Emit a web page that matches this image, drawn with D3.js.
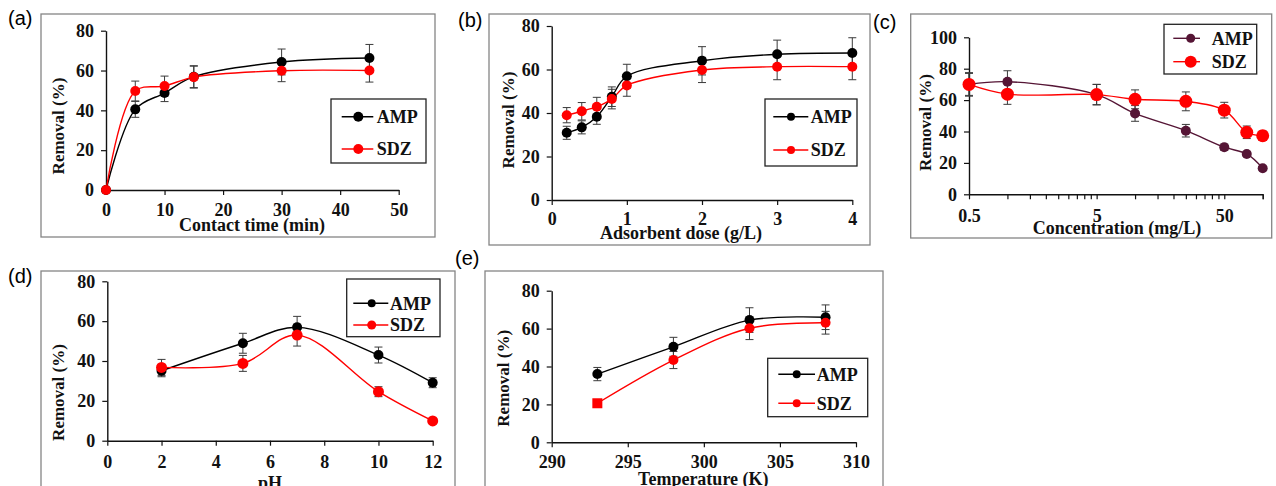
<!DOCTYPE html>
<html>
<head>
<meta charset="utf-8">
<script src="https://cdn.jsdelivr.net/npm/d3@7/dist/d3.min.js"></script>
<style>
  body { margin: 0; background: #fff; }
  svg { display: block; }
</style>
</head>
<body>
<svg id="chart" width="1276" height="486"></svg>
<script>
// ---- data ----
// (a) contact time
var timeX = [0, 5, 10, 15, 30, 45];
var timeAMP = [0, 40.5, 48.7, 56.9, 64.3, 66.3];
var timeAMPErr = [0, 4, 4.3, 5.5, 6.5, 6.8];
var timeSDZ = [0, 49.7, 52.2, 56.7, 59.9, 60];
var timeSDZErr = [0, 5, 5, 5.5, 5.5, 5.8];

// (b) adsorbent dose
var doseX = [0.2, 0.4, 0.6, 0.8, 1, 2, 3, 4];
var doseAMP = [30.9, 33.4, 38.3, 47.5, 56.9, 64, 67, 67.6];
var doseAMPErr = [3, 3, 3.5, 4.5, 5.5, 6.5, 6.5, 7];
var doseSDZ = [39, 40.8, 42.9, 46.4, 52.7, 59.8, 61.3, 61.3];
var doseSDZErr = [3.5, 4, 4.3, 4.5, 5, 5.8, 6, 6];

// (c) concentration (log axis)
var concX = [0.5, 1, 5, 10, 25, 50, 75, 100];
var concAMP = [70, 71.7, 63.5, 51.5, 40.5, 30, 25.7, 16.6];
var concAMPErr = [7.5, 7, 6.5, 5, 4, 2, 1.5, 1];
var concSDZ = [70, 63.8, 63.5, 60.5, 59.2, 53.6, 39.5, 37.3];
var concSDZErr = [7, 6.5, 6.5, 6, 6, 5, 4, 3];
var concTickLabels = [0.5, 5, 50];

// (d) pH
var phX = [2, 5, 7, 10, 12];
var phAMP = [35.1, 48.9, 56.9, 43, 29.1];
var phAMPErr = [3, 5, 5.5, 4, 2.5];
var phSDZ = [36.8, 38.8, 53, 24.6, 9.9];
var phSDZErr = [4, 4, 5.5, 2.5, 1];

// (e) temperature
var tempX = [293, 298, 303, 308];
var tempAMP = [36, 50.4, 64.5, 66];
var tempAMPErr = [3.5, 5, 6.5, 6.5];
var tempSDZ = [20.6, 43.4, 60.2, 63.1];
var tempSDZErr = [1.5, 4.5, 6, 6];

var seriesNames = ["AMP", "SDZ"];

var SERIF = "'Liberation Serif', 'Times New Roman', 'DejaVu Serif', serif";
var SANS = "'Liberation Sans', Arial, sans-serif";

var svg = d3.select("#chart");

function minorLogTicks(lo, hi) {
  var t = [];
  for (var dec = lo; dec < hi; dec *= 10) {
    for (var k = 1; k <= 9; k++) {
      var v = dec * k;
      if (v <= hi + 1e-9) t.push(+v.toPrecision(6));
    }
  }
  t.push(hi);
  return t;
}

function serifText(sel, size) {
  return sel.style("font-family", SERIF).style("font-weight", "bold")
    .style("font-size", size + "px").attr("fill", "#111");
}

function drawPanel(c) {
  var g = svg.append("g");

  // outer frame
  g.append("rect")
    .attr("x", c.frame[0]).attr("y", c.frame[1])
    .attr("width", c.frame[2]).attr("height", c.frame[3])
    .attr("fill", "none").attr("stroke", "#858585").attr("stroke-width", 1.3);

  g.append("text")
    .style("font-family", SANS).style("font-size", "20px")
    .attr("x", c.label[0]).attr("y", c.label[1]).attr("dy", "0.35em")
    .text(c.label[2]);

  var x = c.log ? d3.scaleLog() : d3.scaleLinear();
  x.domain(c.xDomain).range(c.xRange);
  var y = d3.scaleLinear().domain(c.yDomain).range(c.yRange);

  var xAxis = d3.axisBottom(x).tickValues(c.xTicks).tickSize(5).tickSizeOuter(0)
    .tickFormat(function(d) { return c.xLabels.indexOf(d) >= 0 ? d : ""; });
  var gx = g.append("g")
    .attr("transform", "translate(0," + c.yRange[0] + ")")
    .call(xAxis);
  serifText(gx.selectAll("text"), 18).attr("y", c.tickLabelY - c.yRange[0]).attr("dy", "0.35em");

  var gy = g.append("g")
    .attr("transform", "translate(" + c.xRange[0] + ",0)")
    .call(d3.axisLeft(y).tickValues(c.yTicks).tickSize(5).tickSizeOuter(0));
  serifText(gy.selectAll("text"), 18).attr("x", -12);

  [gx, gy].forEach(function(a) {
    a.select(".domain").attr("stroke", "#111").attr("stroke-width", 1.4);
    a.selectAll(".tick line").attr("stroke", "#111").attr("stroke-width", 1.2);
  });

  serifText(g.append("text"), 18)
    .attr("x", c.xTitle[0]).attr("y", c.xTitle[1]).attr("dy", "0.35em")
    .attr("text-anchor", "middle")
    .text(c.xTitle[2]);
  serifText(g.append("text"), 17)
    .attr("transform", "translate(" + c.yTitle[0] + "," + c.yTitle[1] + ") rotate(-90)")
    .attr("dy", "0.35em")
    .attr("text-anchor", "middle")
    .text("Removal (%)");

  var line = d3.line().curve(d3.curveCatmullRom.alpha(0.5))
    .x(function(d) { return x(d[0]); })
    .y(function(d) { return y(d[1]); });

  c.series.forEach(function(s) {
    var pts = c.xs.map(function(v, i) { return [v, s.values[i], s.errs[i]]; });
    g.append("path").datum(pts)
      .attr("d", line).attr("fill", "none")
      .attr("stroke", s.color).attr("stroke-width", 1.4);

    var eb = g.append("g").attr("stroke", "#3a3a3a").attr("stroke-width", 1);
    pts.forEach(function(p) {
      if (!p[2]) return;
      var px = x(p[0]), y1 = y(p[1] + p[2]), y2 = y(p[1] - p[2]);
      eb.append("line").attr("x1", px).attr("x2", px).attr("y1", y1).attr("y2", y2);
      eb.append("line").attr("x1", px - 4).attr("x2", px + 4).attr("y1", y1).attr("y2", y1);
      eb.append("line").attr("x1", px - 4).attr("x2", px + 4).attr("y1", y2).attr("y2", y2);
    });
  });

  c.series.forEach(function(s) {
    c.xs.forEach(function(v, i) {
      var px = x(v), py = y(s.values[i]);
      if (s.square && s.square.indexOf(i) >= 0) {
        g.append("rect").attr("x", px - s.r).attr("y", py - s.r)
          .attr("width", 2 * s.r).attr("height", 2 * s.r).attr("fill", s.color);
      } else {
        g.append("circle").attr("cx", px).attr("cy", py).attr("r", s.r).attr("fill", s.color);
      }
    });
  });

  // legend
  var L = c.legend;
  g.append("rect").attr("x", L.box[0]).attr("y", L.box[1])
    .attr("width", L.box[2]).attr("height", L.box[3])
    .attr("fill", "#fff").attr("stroke", "#222").attr("stroke-width", 1.3);
  c.series.forEach(function(s, i) {
    var ry = L.rows[i];
    g.append("line").attr("x1", L.line[0]).attr("x2", L.line[1]).attr("y1", ry).attr("y2", ry)
      .attr("stroke", s.color).attr("stroke-width", 1.4);
    g.append("circle").attr("cx", L.mark).attr("cy", ry).attr("r", s.lr).attr("fill", s.color);
    serifText(g.append("text"), 18).attr("x", L.text).attr("y", ry).attr("dy", "0.35em")
      .text(seriesNames[i]);
  });
}

drawPanel({
  frame: [41, 14, 394, 223], label: [8, 18, "(a)"],
  xDomain: [0, 50], xRange: [106, 398.7], xTicks: [0, 10, 20, 30, 40, 50], xLabels: [0, 10, 20, 30, 40, 50],
  yDomain: [0, 80], yRange: [190, 30.7], yTicks: [0, 20, 40, 60, 80],
  tickLabelY: 210, xTitle: [252, 225, "Contact time (min)"], yTitle: [58, 126],
  xs: timeX,
  series: [
    { values: timeAMP, errs: timeAMPErr, color: "#000", r: 5, lr: 5 },
    { values: timeSDZ, errs: timeSDZErr, color: "#ff0000", r: 5, lr: 5 }
  ],
  legend: { box: [331, 99, 95, 64], line: [341.7, 373.3], mark: 358.3, rows: [116.7, 149], text: 376.7 }
});

drawPanel({
  frame: [489, 14, 381, 231], label: [458, 20, "(b)"],
  xDomain: [0, 4], xRange: [551.7, 852.3], xTicks: [0, 1, 2, 3, 4], xLabels: [0, 1, 2, 3, 4],
  yDomain: [0, 80], yRange: [200, 26], yTicks: [0, 20, 40, 60, 80],
  tickLabelY: 219, xTitle: [681, 233, "Adsorbent dose (g/L)"], yTitle: [508, 120],
  xs: doseX,
  series: [
    { values: doseAMP, errs: doseAMPErr, color: "#000", r: 5, lr: 4 },
    { values: doseSDZ, errs: doseSDZErr, color: "#ff0000", r: 5, lr: 4 }
  ],
  legend: { box: [765, 99, 92, 67], line: [773.3, 808.3], mark: 791, rows: [116.7, 150], text: 810.7 }
});

drawPanel({
  frame: [910.7, 14, 361, 224], label: [873, 22, "(c)"], log: true,
  xDomain: [0.5, 100], xRange: [969, 1262.7], xTicks: minorLogTicks(0.5, 100), xLabels: concTickLabels,
  yDomain: [0, 100], yRange: [194.3, 37.3], yTicks: [0, 20, 40, 60, 80, 100],
  tickLabelY: 216, xTitle: [1117, 228, "Concentration (mg/L)"], yTitle: [925, 122.5],
  xs: concX,
  series: [
    { values: concAMP, errs: concAMPErr, color: "#551535", r: 5, lr: 4.5 },
    { values: concSDZ, errs: concSDZErr, color: "#ff0000", r: 6.5, lr: 6 }
  ],
  legend: { box: [1164, 24.3, 92.7, 49.7], line: [1173.3, 1200], mark: 1190.7, rows: [38.3, 61.7], text: 1211.7 }
});

drawPanel({
  frame: [41, 271, 414, 230], label: [8, 276, "(d)"],
  xDomain: [0, 12], xRange: [107.3, 432.7], xTicks: [0, 2, 4, 6, 8, 10, 12], xLabels: [0, 2, 4, 6, 8, 10, 12],
  yDomain: [0, 80], yRange: [440.7, 281.3], yTicks: [0, 20, 40, 60, 80],
  tickLabelY: 462, xTitle: [270, 482.7, "pH"], yTitle: [58.3, 392.5],
  xs: phX,
  series: [
    { values: phAMP, errs: phAMPErr, color: "#000", r: 5, lr: 4 },
    { values: phSDZ, errs: phSDZErr, color: "#ff0000", r: 5.5, lr: 4.5 }
  ],
  legend: { box: [346.7, 279, 93.3, 57.7], line: [353.3, 388.3], mark: 371.7, rows: [303.3, 325], text: 390 }
});

drawPanel({
  frame: [485, 271, 398, 230], label: [455, 258, "(e)"],
  xDomain: [290, 310], xRange: [551.7, 856], xTicks: [290, 295, 300, 305, 310], xLabels: [290, 295, 300, 305, 310],
  yDomain: [0, 80], yRange: [442.3, 290.7], yTicks: [0, 20, 40, 60, 80],
  tickLabelY: 462, xTitle: [703.3, 478.3, "Temperature (K)"], yTitle: [503.3, 378.3],
  xs: tempX,
  series: [
    { values: tempAMP, errs: tempAMPErr, color: "#000", r: 5, lr: 4 },
    { values: tempSDZ, errs: tempSDZErr, color: "#ff0000", r: 5, lr: 4, square: [0] }
  ],
  legend: { box: [767.7, 358.3, 100, 58.4], line: [778.3, 815], mark: 796.7, rows: [374.3, 403.3], text: 816.7 }
});
</script>
</body>
</html>
